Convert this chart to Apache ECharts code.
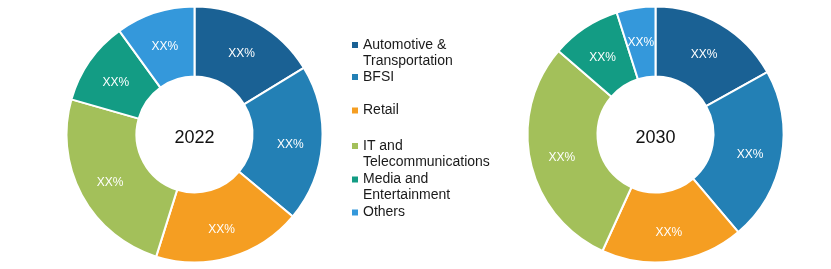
<!DOCTYPE html>
<html>
<head>
<meta charset="utf-8">
<script src="https://cdn.jsdelivr.net/npm/echarts@6/dist/echarts.min.js"></script>
<style>
html,body{margin:0;padding:0;background:#fff;}
#chart{width:831px;height:269px;}
</style>
</head>
<body>
<div id="chart"></div>
<script>
// Data
var categories = ['Automotive & Transportation', 'BFSI', 'Retail', 'IT and Telecommunications', 'Media and Entertainment', 'Others'];
var legendLabels = ['Automotive &\nTransportation', 'BFSI', 'Retail', 'IT and\nTelecommunications', 'Media and\nEntertainment', 'Others'];
var colors = ['#1a6194', '#2380b5', '#f59e22', '#a3c05a', '#139c84', '#3498db'];
var values2022 = [16.3, 19.8, 18.8, 24.6, 10.6, 10.0];
var values2030 = [16.9, 21.9, 18.0, 29.5, 8.8, 4.9];
var years = ['2022', '2030'];
var sliceLabel = 'XX%';

var FONT = '"Liberation Sans", Arial, sans-serif';
var chart = echarts.init(document.getElementById('chart'), null, {renderer: 'canvas'});

function makeData(vals) {
  return categories.map(function (c, i) { return {name: c, value: vals[i]}; });
}

var legendCenters = [45, 77, 110.5, 146, 179.5, 212.5];
var legends = categories.map(function (c, i) {
  var multi = legendLabels[i].indexOf('\n') >= 0;
  return {
    orient: 'vertical',
    left: 352,
    top: multi ? legendCenters[i] - 24 : legendCenters[i] - 8,
    padding: 0,
    icon: 'rect',
    itemWidth: 6,
    itemHeight: 6,
    itemStyle: {borderWidth: 0},
    selectedMode: false,
    data: [c],
    formatter: function () { return multi ? ' \n' + legendLabels[i] : legendLabels[i]; },
    textStyle: {
      fontFamily: FONT,
      fontSize: 14,
      color: '#1a1a1a',
      lineHeight: 16
    }
  };
});

function pieSeries(vals, cx) {
  return {
    type: 'pie',
    center: [cx, 134.5],
    radius: [58, 128],
    startAngle: 90,
    clockwise: true,
    avoidLabelOverlap: false,
    animation: false,
    emphasis: {disabled: true},
    itemStyle: {borderColor: '#ffffff', borderWidth: 2},
    label: {
      show: true,
      position: 'inside',
      formatter: sliceLabel,
      color: '#ffffff',
      fontFamily: FONT,
      fontSize: 12,
      offset: [0, 3]
    },
    labelLine: {show: false},
    data: makeData(vals)
  };
}

chart.setOption({
  color: colors,
  animation: false,
  legend: legends,
  series: [pieSeries(values2022, 194.5), pieSeries(values2030, 655.5)],
  graphic: [
    {type: 'text', x: 194.5, y: 138, style: {text: years[0], font: '18px ' + FONT, fill: '#111', align: 'center', verticalAlign: 'middle'}},
    {type: 'text', x: 655.5, y: 138, style: {text: years[1], font: '18px ' + FONT, fill: '#111', align: 'center', verticalAlign: 'middle'}}
  ]
});
</script>
</body>
</html>
